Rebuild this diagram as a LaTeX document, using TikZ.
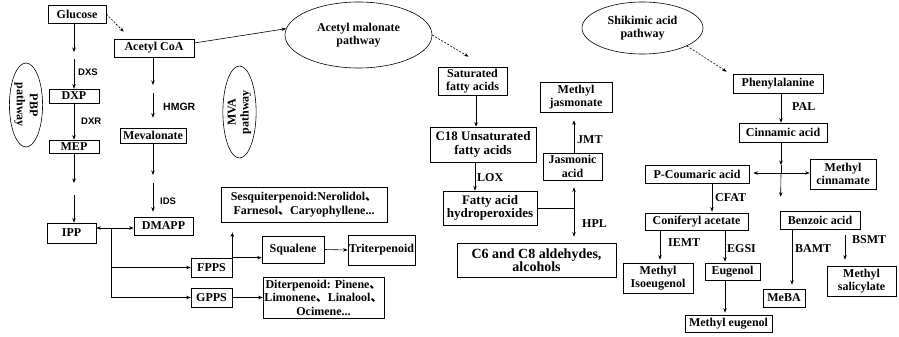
\documentclass[tikz,border=0pt]{standalone}
\usepackage{fontspec}
\setmainfont{Liberation Serif}
\newfontfamily\lsans{Liberation Sans}
\newfontfamily\cjk{Noto Sans CJK SC}
\usetikzlibrary{arrows.meta,shapes.geometric,calc}
\newcommand{\dun}{{\cjk 、}}
\begin{document}
\begin{tikzpicture}[x=1pt,y=-1pt,
 box/.style={draw, line width=0.7pt, inner sep=1pt, align=center, font=\bfseries\fontsize{12}{13.5}\selectfont},
 ell/.style={draw, ellipse, line width=0.6pt, inner sep=0pt, align=center, font=\bfseries\fontsize{12}{13}\selectfont},
 arr/.style={-{Stealth[length=4.5pt,width=3.5pt]}, line width=0.6pt},
 arrtwo/.style={{Stealth[length=4.5pt,width=3.5pt]}-{Stealth[length=4.5pt,width=3.5pt]}, line width=0.6pt},
 dsh/.style={dash pattern=on 2pt off 1.5pt},
 lab/.style={anchor=west, inner sep=0pt, font=\bfseries\fontsize{12}{12}\selectfont},
 slab/.style={anchor=west, inner sep=0pt, font=\lsans\bfseries\fontsize{9.5}{9.5}\selectfont},
 wh/.style 2 args={minimum width=#1pt, minimum height=#2pt}
]
\useasboundingbox (0,0) rectangle (899,337);

% ---------- left part ----------
\node[box, wh={58}{18}] (glucose) at (77,14) {Glucose};
\node[box, wh={80}{18}] (acetyl) at (154,48) {Acetyl CoA};
\node[box, wh={50}{14}] (dxp) at (74,96) {DXP};
\node[box, wh={50}{13}] (mep) at (74,146.5) {MEP};
\node[box, wh={66}{15}] (mev) at (153,135.5) {Mevalonate};
\node[box, wh={49}{20}] (ipp) at (71.5,233) {IPP};
\node[box, wh={59}{18}] (dmapp) at (163.5,226) {DMAPP};
\node[box, wh={41}{19}] (fpps) at (211.5,267.5) {FPPS};
\node[box, wh={41}{19}] (gpps) at (211.5,297.5) {GPPS};
\node[box, wh={166}{35}] (sesq) at (304,204.5) {Sesquiterpenoid:Nerolidol\dun\\Farnesol\dun Caryophyllene...};
\node[box, wh={62}{27}] (squalene) at (293,249.5) {Squalene};
\node[box, wh={57}{30}] (triterp) at (381.5,250) {Triterpenoid};
\node[box, wh={121}{41}] (diterp) at (323.5,297.5) {Diterpenoid: Pinene\dun\\Limonene\dun Linalool\dun\\Ocimene...};
\node[ell, rotate=-90, wh={84}{32}] (pbp) at (26,105) {PBP\\pathway};
\node[ell, rotate=90, wh={92}{33}] (mva) at (239.5,112) {MVA\\pathway};

% ---------- middle part ----------
\node[ell, wh={147}{66}] (acmal) at (358.5,35) {Acetyl malonate\\pathway};
\node[box, wh={69}{28}] (satfa) at (472.5,81) {Saturated\\fatty acids};
\node[box, wh={106}{35}, font=\bfseries\fontsize{13}{14.5}\selectfont] (c18) at (483,144.5) {C18 Unsaturated\\fatty acids};
\node[box, wh={94}{34}, font=\bfseries\fontsize{13}{13.5}\selectfont] (fah) at (490,208) {Fatty acid\\hydroperoxides};
\node[box, wh={59}{27}] (jas) at (572.5,166.5) {Jasmonic\\acid};
\node[box, wh={72}{30}] (mejas) at (576,97) {Methyl\\jasmonate};
\node[box, wh={159}{34}, font=\bfseries\fontsize{14}{13.5}\selectfont] (c6) at (536.5,260) {C6 and C8 aldehydes,\\alcohols};

% ---------- right part ----------
\node[ell, wh={121}{52}] (shik) at (642.5,28) {Shikimic acid\\pathway};
\node[box, wh={90}{19}] (phe) at (778,83.5) {Phenylalanine};
\node[box, wh={88}{19}] (cin) at (783,132.5) {Cinnamic acid};
\node[box, wh={104}{18}] (pcou) at (697,174) {P-Coumaric acid};
\node[box, wh={66}{30}] (mecin) at (843,174) {Methyl\\cinnamate};
\node[box, wh={80}{18}] (benz) at (820,220) {Benzoic acid};
\node[box, wh={103}{17}] (conif) at (696.5,221.5) {Coniferyl acetate};
\node[box, wh={70}{30}] (meiso) at (658,278) {Methyl\\Isoeugenol};
\node[box, wh={55}{17}] (eug) at (732.5,271.5) {Eugenol};
\node[box, wh={87}{17}] (meeug) at (728.5,323.5) {Methyl eugenol};
\node[box, wh={42}{18}] (meba) at (784,298) {MeBA};
\node[box, wh={69}{30}] (mesal) at (861.5,281) {Methyl\\salicylate};

% ---------- labels ----------
\node[slab] (lDXS) at (78,72) {DXS};
\node[slab] (lDXR) at (81,121) {DXR};
\node[slab, font=\lsans\bfseries\fontsize{10.5}{10.5}\selectfont] (lHMGR) at (163,107) {HMGR};
\node[slab] (lIDS) at (160,201) {IDS};
\node[lab] (lLOX) at (477,178) {LOX};
\node[lab] (lJMT) at (577,140) {JMT};
\node[lab] (lHPL) at (582,224) {HPL};
\node[lab] (lPAL) at (792,107) {PAL};
\node[lab] (lCFAT) at (715,198) {CFAT};
\node[lab] (lIEMT) at (668,243) {IEMT};
\node[lab] (lEGSI) at (727,249) {EGSI};
\node[lab] (lBAMT) at (795,249) {BAMT};
\node[lab] (lBSMT) at (852,240) {BSMT};

% ---------- coordinates ----------
\coordinate (g1) at (74,52);  \coordinate (g2) at (74,59);
\coordinate (m1) at (74,183); \coordinate (m2) at (74,195);
\coordinate (a1) at (153,85); \coordinate (a2) at (153,93);
\coordinate (v1) at (153,175); \coordinate (v2) at (153,183);
\coordinate (jl) at (111,228);
\coordinate (jn) at (574,208);
\coordinate (cr) at (781,173); \coordinate (cr1) at (781,165);

% ---------- connectors left ----------
\draw[arr] (glucose.south -| g1) -- (g1);
\draw[arr] (g2) -- (dxp.north -| g2);
\draw[arr] (dxp.south) -- (mep.north);
\draw[arr] (mep.south -| m1) -- (m1);
\draw[arr] (m2) -- (ipp.north -| m2);
\draw[arr, dsh] (glucose.east) -- ($(acetyl.north west)+(10,-7)$);
\draw[arr] ($(acetyl.east)+(0,-5)$) -- (acmal.175);
\draw[arr] (acetyl.south -| a1) -- (a1);
\draw[arr, shorten >=10pt] (a2) -- (mev.north -| a2);
\draw[arr] (mev.south -| v1) -- (v1);
\draw[arr, shorten >=5pt] (v2) -- (dmapp.north -| v2);
\draw[arrtwo] (ipp.east |- jl) -- (dmapp.west |- jl);
\draw[line width=0.6pt] (jl) -- (jl |- gpps.west);
\draw[arr] (jl) |- (fpps.west);
\draw[arr] (jl) |- (gpps.west);
\draw[arr] (fpps.north east) -- ($(fpps.north east |- sesq.south)+(0,10)$);
\draw[arr] (fpps.north east) -- (squalene.west |- fpps.north east);
\draw[arr] (squalene.east) -- (triterp.west);
\draw[arr] (gpps.east) -- (diterp.west);

% ---------- connectors middle ----------
\draw[arr, dsh] (acmal.east) -- ($(satfa.north)+(-4,-10)$);
\draw[arr] ([xshift=3.5pt]satfa.south) -- ([xshift=3.5pt]satfa.south |- c18.north);
\draw[arr] ([xshift=-8pt]c18.south) -- ([xshift=-8pt]c18.south |- fah.north);
\draw[line width=0.6pt] (fah.east |- jn) -- (jn);
\draw[arr, shorten >=7pt] (jn) -- (jn |- jas.south);
\draw[arr, shorten >=6pt] (jn) -- (jn |- c6.north);
\draw[arr, shorten >=8pt] (jn |- jas.north) -- (jn |- mejas.south);

% ---------- connectors right ----------
\draw[arr, dsh] (shik.-22) -- ($(phe.north west)+(-6,-2)$);
\draw[arr] ([xshift=3pt]phe.south) -- ([xshift=3pt]phe.south |- cin.north);
\draw[arr] (cin.south -| cr) -- (cr1);
\draw[line width=0.6pt] (cr1) -- (cr);
\draw[arr] (cr) -- ($(benz.north west)+(1,-14)$);
\draw[arr, shorten >=4pt] (cr) -- (pcou.east |- cr);
\draw[arr] (cr) -- (mecin.west |- cr);
\draw[arr, shorten >=1pt] ([xshift=15pt]pcou.south) -- ([xshift=15pt]pcou.south |- conif.north);
\draw[arr, shorten >=3pt] ([xshift=-36.5pt]conif.south) -- ([xshift=-36.5pt]conif.south |- meiso.north);
\draw[arr, shorten >=1pt] ([xshift=28.5pt]conif.south) -- ([xshift=28.5pt]conif.south |- eug.north);
\draw[arr, shorten >=2pt] ([xshift=-7.5pt]eug.south) -- ([xshift=-7.5pt]eug.south |- meeug.north);
\draw[arr, shorten >=4pt] ([xshift=-28pt]benz.south) -- ([xshift=-28pt]benz.south |- meba.north);
\draw[arr, shorten <=6pt, shorten >=6pt] ([xshift=25pt]benz.south) -- ([xshift=25pt]benz.south |- mesal.north);
\end{tikzpicture}
\end{document}
